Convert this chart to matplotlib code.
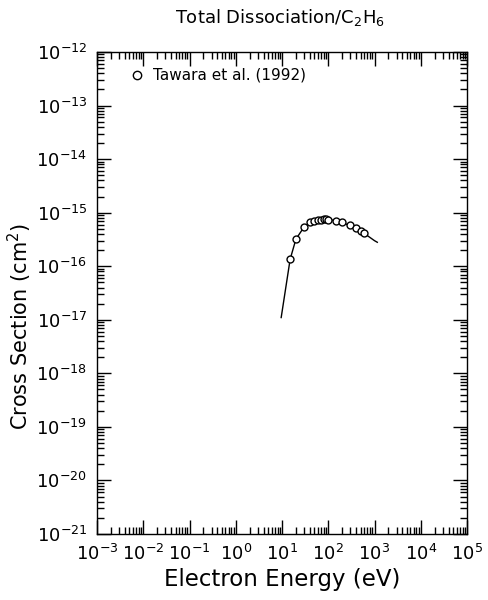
import matplotlib
matplotlib.use("Agg")
import math
import matplotlib.pyplot as plt
from matplotlib.ticker import LogLocator, FuncFormatter, NullFormatter

# Data
curve_energy = [9.6, 15, 20, 30, 40, 50, 70, 100, 150, 200, 300, 400, 500, 600, 1000, 1150]
curve_xsec = [1.1e-17, 1.35e-16, 3.2e-16, 5.4e-16, 6.6e-16, 7.1e-16, 7.4e-16, 7.4e-16,
              7.1e-16, 6.5e-16, 5.7e-16, 5.0e-16, 4.5e-16, 4.1e-16, 3.0e-16, 2.8e-16]
pts_energy = [15, 20, 30, 40, 50, 60, 70, 80, 90, 100, 150, 200, 300, 400, 500, 600]
pts_xsec = [1.35e-16, 3.2e-16, 5.4e-16, 6.6e-16, 7.1e-16, 7.3e-16, 7.4e-16, 7.5e-16, 7.5e-16,
            7.4e-16, 7.1e-16, 6.6e-16, 5.8e-16, 5.1e-16, 4.6e-16, 4.2e-16]
legend_label = "Tawara et al. (1992)"
title = "Total Dissociation/C$_2$H$_6$"
xlabel = "Electron Energy (eV)"
ylabel = "Cross Section (cm$^2$)"

plt.rcParams['font.family'] = ['DejaVu Sans']
plt.rcParams['mathtext.default'] = 'regular'

fig = plt.figure(figsize=(4.89, 6.0), dpi=100)
ax = fig.add_axes([97/489, 1-534/600, 370/489, 482/600])

ax.plot(curve_energy, curve_xsec, color='black', lw=1.0)
ax.plot(pts_energy, pts_xsec, linestyle='none', marker='o', mfc='white', mec='black',
        ms=5, mew=1.0)

ax.set_xscale('log')
ax.set_yscale('log')
ax.set_xlim(1e-3, 1e5)
ax.set_ylim(1e-21, 1e-12)

def fmt(v, pos):
    e = int(round(math.log10(v)))
    return r"$10^{%d}$" % e

ax.xaxis.set_major_locator(LogLocator(base=10, numticks=20))
ax.yaxis.set_major_locator(LogLocator(base=10, numticks=20))
ax.xaxis.set_minor_locator(LogLocator(base=10, subs=range(2, 10), numticks=100))
ax.yaxis.set_minor_locator(LogLocator(base=10, subs=range(2, 10), numticks=100))
ax.xaxis.set_major_formatter(FuncFormatter(fmt))
ax.yaxis.set_major_formatter(FuncFormatter(fmt))
ax.xaxis.set_minor_formatter(NullFormatter())
ax.yaxis.set_minor_formatter(NullFormatter())
ax.xaxis.offsetText.set_visible(False)
ax.yaxis.offsetText.set_visible(False)

ax.tick_params(which='both', direction='in', top=True, right=True, width=1, color='black')
ax.tick_params(which='major', length=10, labelsize=13, pad=7)
ax.tick_params(which='minor', length=5)
for s in ax.spines.values():
    s.set_linewidth(1.0)

ax.set_xlabel(xlabel, fontsize=16.5, labelpad=3)
ax.set_ylabel(ylabel, fontsize=15)
ax.yaxis.set_label_coords(-0.17, 0.43)
fig.text(0.573, 1-18/600, title, fontsize=13, ha='center', va='center')

# legend
ax.plot([0.0073], [3.7e-13], linestyle='none', marker='o', mfc='white', mec='black', ms=6, mew=1.0)
ax.text(0.0163, 3.7e-13, legend_label, fontsize=11, va='center', ha='left')

fig.savefig("out.png", dpi=100)
